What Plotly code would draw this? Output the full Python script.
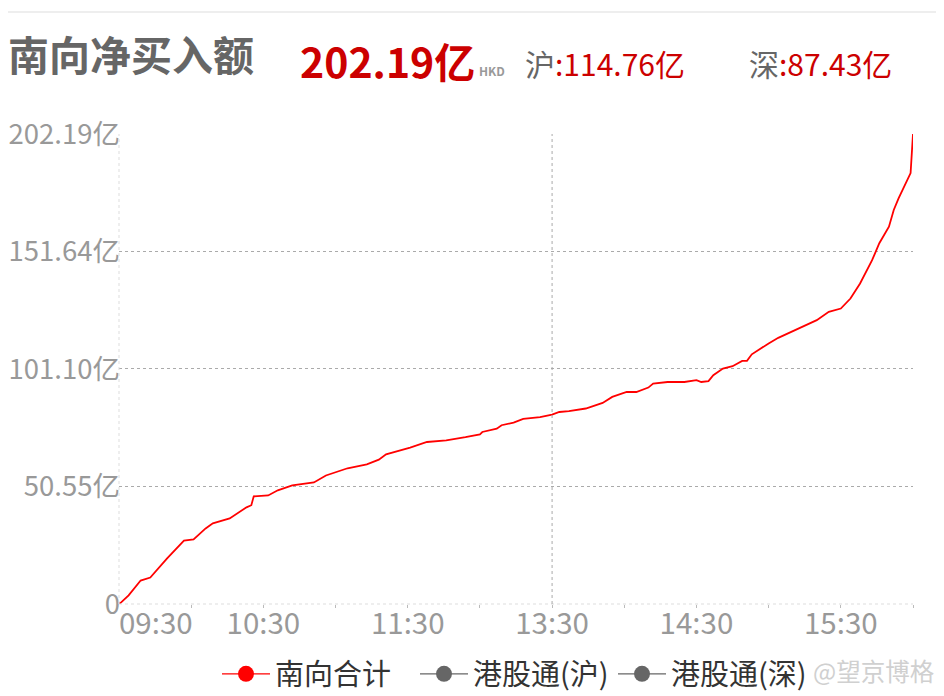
import plotly.graph_objects as go

# ---------------- data ----------------
times = ["09:30", "09:31", "09:34", "09:39", "09:43", "09:50", "09:57", "10:01", "10:06", "10:09",
         "10:16", "10:23", "10:25", "10:26", "10:32", "10:36", "10:42", "10:51", "10:56", "11:05",
         "11:13", "11:18", "11:21", "11:27", "11:31", "11:38", "11:46", "11:54", "12:00", "13:01",
         "13:07", "13:09", "13:14", "13:18", "13:25", "13:30", "13:33", "13:37", "13:41", "13:44",
         "13:51", "13:55", "14:01", "14:05", "14:10", "14:12", "14:18", "14:25", "14:30", "14:32",
         "14:35", "14:37", "14:41", "14:45", "14:49", "14:51", "14:53", "14:56", "15:00", "15:04",
         "15:11", "15:20", "15:25", "15:30", "15:34", "15:38", "15:43", "15:46", "15:50", "15:52",
         "15:54", "15:58", "15:59", "16:00"]
south_total = [0.0, 0.8, 3.7, 10.1, 11.4, 19.6, 27.3, 27.8, 32.5, 34.7,
               36.8, 41.6, 42.5, 46.3, 46.7, 48.9, 51.0, 52.3, 55.3, 58.4,
               60.1, 62.1, 64.4, 66.1, 67.3, 69.7, 70.4, 71.8, 73.0, 74.0,
               75.4, 76.9, 78.0, 79.6, 80.4, 81.5, 82.6, 83.0, 83.8, 84.1,
               86.5, 89.1, 91.2, 91.2, 93.1, 94.8, 95.5, 95.5, 96.3, 95.5,
               95.9, 98.4, 101.3, 102.3, 104.6, 104.6, 107.4, 109.5, 112.1, 114.5,
               117.8, 122.1, 125.7, 127.1, 131.4, 137.9, 147.9, 155.2, 162.3, 169.5,
               174.5, 183.1, 185.4, 202.19]

series_names = ["南向合计", "港股通(沪)", "港股通(深)"]
total_value = "202.19亿"
sh_value = "114.76亿"
sz_value = "87.43亿"

y_ticks = [0, 50.55, 101.10, 151.64, 202.19]
y_ticktext = ["0", "50.55亿", "101.10亿", "151.64亿", "202.19亿"]
x_tick_labels = ["10:30", "11:30", "13:30", "14:30", "15:30"]
x_first_label = "09:30"
x_minor_labels = ["10:00", "10:30", "11:00", "11:30", "12:00", "13:30", "14:00",
                  "14:30", "15:00", "15:30", "16:00"]


def trade_min(t):
    h, m = map(int, t.split(":"))
    tot = h * 60 + m
    if tot <= 12 * 60:
        return tot - (9 * 60 + 30)
    return tot - 13 * 60 + 150


x = [trade_min(t) for t in times]
x_end = trade_min("16:00")

RED = "#ff0000"
GRAY = "#666666"
FONT = "Noto Sans CJK SC"

# page has an 8px body margin -> work in figure coords = page coords - 8
W, H = 936, 688
L, T = 111, 126
PW, PH = 794, 470
R = W - L - PW
B = H - T - PH


def px_x(px):
    return (px - L) / PW


def px_y(py):
    return (T + PH - py) / PH


fig = go.Figure()
fig.add_trace(go.Scatter(x=x, y=south_total, mode="lines", line=dict(color=RED, width=1.8),
                         showlegend=False, legendgroup="a", hoverinfo="skip"))
fig.add_trace(go.Scatter(x=[None], y=[None], mode="lines+markers", name=series_names[0],
                         legendgroup="a", line=dict(color=RED, width=1.2),
                         marker=dict(color=RED, size=16), xaxis="x2"))
for nm in series_names[1:]:
    fig.add_trace(go.Scatter(x=[None], y=[None], mode="lines+markers", name=nm, xaxis="x2",
                             line=dict(color=GRAY, width=1.2), marker=dict(color=GRAY, size=16)))

xtickfont = dict(family=FONT, size=29.5, color="#999999")
ytickfont = dict(family=FONT, size=27.5, color="#999999")

fig.update_layout(
    width=W, height=H,
    margin=dict(l=L, r=R, t=T, b=B, autoexpand=False),
    paper_bgcolor="white", plot_bgcolor="white",
    font=dict(family=FONT),
    xaxis=dict(range=[0, x_end], tickvals=[trade_min(t) for t in x_tick_labels],
               ticktext=x_tick_labels, showgrid=False, zeroline=False, showline=False,
               ticks="", tickfont=xtickfont, automargin=False, ticklabelstandoff=-1,
               minor=dict(tickvals=[trade_min(t) for t in x_minor_labels], ticks="outside",
                          ticklen=3, tickcolor="#bbbbbb", showgrid=False)),
    xaxis2=dict(range=[0, x_end], overlaying="x", anchor="y", side="bottom",
                tickvals=[trade_min(x_first_label)], ticktext=[x_first_label],
                ticklabelposition="outside right", ticks="", showgrid=False, automargin=False,
                zeroline=False, showline=False, tickfont=xtickfont, ticklabelstandoff=-1),
    yaxis=dict(range=[0, 202.19], tickvals=y_ticks, ticktext=y_ticktext, showgrid=False,
               zeroline=False, showline=False, ticks="", tickfont=ytickfont, automargin=False,
               ticklabelstandoff=-2,
               minor=dict(tickvals=y_ticks[1:-1], showgrid=True, griddash="dot",
                          gridcolor="#aaaaaa", gridwidth=1)),
    legend=dict(orientation="h", x=px_x(209), xanchor="left", y=px_y(666), yanchor="middle",
                font=dict(family=FONT, size=29, color="#333333"), itemwidth=48,
                entrywidth=135, entrywidthmode="pixels",
                bgcolor="rgba(0,0,0,0)"),
    showlegend=True,
)

shapes = [
    dict(type="line", xref="paper", yref="paper", x0=0, x1=1, y0=0, y1=0,
         line=dict(color="#dddddd", width=1, dash="dot")),
    dict(type="line", xref="paper", yref="paper", x0=0, x1=0, y0=0, y1=1,
         line=dict(color="#dddddd", width=1, dash="dot")),
    dict(type="line", xref="x", yref="paper", x0=trade_min("13:30"), x1=trade_min("13:30"),
         y0=0, y1=1, line=dict(color="#aaaaaa", width=1, dash="dot")),
    dict(type="line", xref="paper", yref="paper", x0=px_x(-8), x1=px_x(W), y0=px_y(4),
         y1=px_y(4), line=dict(color="#eeeeee", width=2)),
]
fig.update_layout(shapes=shapes)

ann = [
    dict(text="<b>南向净买入额</b>", x=px_x(0), y=px_y(45), xanchor="left", yanchor="middle",
         borderpad=0, borderwidth=0, font=dict(family=FONT, size=41, color="#666666")),
    dict(text="<b>" + total_value + "</b>", x=px_x(290), y=px_y(52), xanchor="left",
         yanchor="middle", font=dict(family=FONT, size=41, color="#cc0000")),
    dict(text="<b>HKD</b>", x=px_x(469), y=px_y(62), xanchor="left", yanchor="middle",
         font=dict(family=FONT, size=12, color="#999999")),
    dict(text='<span style="color:#666666">沪</span>:' + sh_value, x=px_x(515), y=px_y(55),
         xanchor="left", yanchor="middle", font=dict(family=FONT, size=30, color="#cc0000")),
    dict(text='<span style="color:#666666">深</span>:' + sz_value, x=px_x(739), y=px_y(55),
         xanchor="left", yanchor="middle", font=dict(family=FONT, size=30, color="#cc0000")),
    dict(text="@望京博格", x=px_x(928), y=px_y(662), xanchor="right", yanchor="middle",
         font=dict(family=FONT, size=24.5, color="#d0d0d0")),
]
for a in ann:
    a.update(xref="paper", yref="paper", showarrow=False)
fig.update_layout(annotations=ann)

fig.write_html("out.html")
